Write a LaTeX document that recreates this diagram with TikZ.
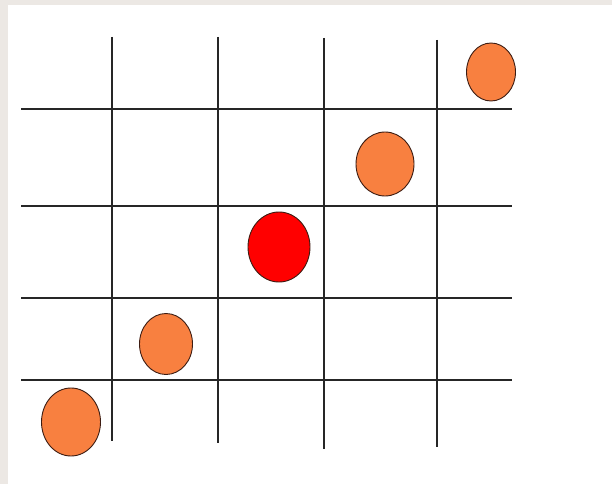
\documentclass[tikz,border=0pt]{standalone}
\usetikzlibrary{shapes.geometric}

\definecolor{moldura}{HTML}{ECE8E4}
\definecolor{laranja}{HTML}{F88040}
\definecolor{vermelho}{HTML}{FF0000}
\definecolor{contorno}{HTML}{3C1C12}

\begin{document}
\begin{tikzpicture}[
    x=1pt, y=-1pt,
    % Linhas da grade e bolas (elipses) com contorno fino
    grade/.style={line width=1.3pt, black!85},
    bola/.style={ellipse, draw=contorno, line width=0.9pt, inner sep=0pt, fill=laranja}
]

% === MOLDURA (fundo cinza + area branca) ===
\fill[moldura] (0,0) rectangle (612,484);
\fill[white] (8,5) rectangle (612,484);
\useasboundingbox (0,0) rectangle (612,484);

% --- Linhas verticais: x / topo / base ---
\foreach \x/\yt/\yb in {112/37/441, 218/37/443, 324/38/449, 437/40/447}
    \draw[grade] (\x,\yt) -- (\x,\yb);

% --- Linhas horizontais ---
\foreach \y in {109,206,298,380}
    \draw[grade] (21,\y) -- (512,\y);

% --- Bolas na diagonal ---
\node[bola, minimum width=49pt, minimum height=58pt] (B1) at (491,72) {};
\node[bola, minimum width=58pt, minimum height=64pt] (B2) at (385,164) {};
\node[bola, fill=vermelho, minimum width=62pt, minimum height=70pt] (C) at (279,247) {};
\node[bola, minimum width=53pt, minimum height=61pt] (B3) at (166,344) {};
\node[bola, minimum width=59pt, minimum height=68pt] (B4) at (71,422) {};

\end{tikzpicture}
\end{document}
